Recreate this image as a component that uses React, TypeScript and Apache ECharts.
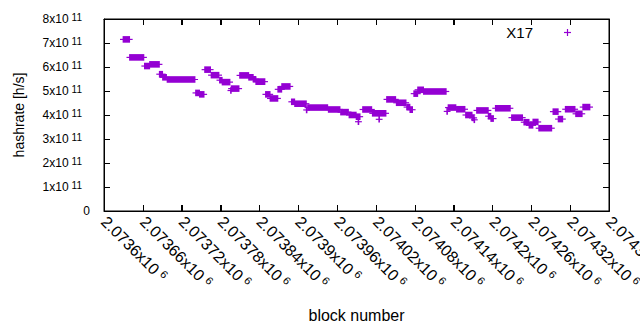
import React, { useEffect, useRef } from 'react';
import * as echarts from 'echarts';

// Runs of consecutive blocks with the same hashrate estimate (value in units of 1e11 h/s)
const runStart = [
  2073630, 2073640, 2073663, 2073671, 2073686, 2073691, 2073698, 2073742, 2073748, 2073756,
  2073766, 2073779, 2073783, 2073796, 2073797, 2073810, 2073824, 2073831, 2073835, 2073850,
  2073857, 2073869, 2073875, 2073890, 2073895, 2073913, 2073915, 2073947, 2073966, 2073979,
  2073990, 2073993, 2074000, 2074015, 2074025, 2074037, 2074052, 2074068, 2074073, 2074079,
  2074085, 2074094, 2074130, 2074132, 2074145, 2074159, 2074169, 2074172, 2074176, 2074194,
  2074198, 2074205, 2074230, 2074249, 2074257, 2074263, 2074272, 2074294, 2074302, 2074313,
  2074329, 2074340,
];
const runEnd = [
  2073639, 2073661, 2073670, 2073685, 2073690, 2073696, 2073740, 2073747, 2073754, 2073764,
  2073777, 2073782, 2073794, 2073796, 2073808, 2073823, 2073830, 2073834, 2073848, 2073856,
  2073868, 2073874, 2073887, 2073894, 2073912, 2073913, 2073945, 2073964, 2073977, 2073989,
  2073995, 2073993, 2074013, 2074035, 2074025, 2074050, 2074066, 2074072, 2074076, 2074084,
  2074093, 2074128, 2074130, 2074143, 2074157, 2074168, 2074171, 2074172, 2074193, 2074197,
  2074201, 2074227, 2074246, 2074256, 2074262, 2074270, 2074291, 2074301, 2074308, 2074327,
  2074338, 2074350,
];
const runHashrate = [
  7.15, 6.40, 6.04, 6.11, 5.70, 5.57, 5.48, 4.92, 4.86, 5.89,
  5.66, 5.45, 5.37, 5.02, 5.10, 5.65, 5.57, 5.49, 5.39, 4.86,
  4.69, 5.07, 5.19, 4.55, 4.47, 4.21, 4.31, 4.23, 4.12, 4.00,
  3.93, 3.72, 4.23, 4.07, 3.82, 4.65, 4.51, 4.33, 4.22, 4.89,
  5.05, 4.98, 4.15, 4.31, 4.24, 4.00, 3.88, 3.80, 4.19, 3.95,
  3.85, 4.28, 3.89, 3.70, 3.57, 3.71, 3.45, 4.14, 3.83, 4.24,
  4.05, 4.33,
];

const xTickLabels = [
  '2.0736', '2.07366', '2.07372', '2.07378', '2.07384', '2.0739', '2.07396',
  '2.07402', '2.07408', '2.07414', '2.0742', '2.07426', '2.07432', '2.07438',
];
const xTickExponent = '6';
const yTickLabels = ['0', '1x10', '2x10', '3x10', '4x10', '5x10', '6x10', '7x10', '8x10'];
const yTickExponent = '11';
const seriesName = 'X17';
const xTitle = 'block number';
const yTitle = 'hashrate [h/s]';

const X_MIN = 2073600;
const X_MAX = 2074380;
const X_STEP = 60;
const Y_MIN = 0;
const Y_MAX = 8;
const COLOR = '#9400d3';
const INK = 'black';
const FONT = '"Liberation Sans", Arial, sans-serif';
const TICK = 6;

const axisCommon = () => ({
  axisLine: { show: true, onZero: false, lineStyle: { color: INK, width: 1 } },
  axisTick: { show: true, inside: true, length: TICK, lineStyle: { color: INK, width: 1 } },
  splitLine: { show: false },
});

const crisp = (v: number) => Math.round(v) + 0.5;

export default function App() {
  const ref = useRef<HTMLDivElement>(null);

  useEffect(() => {
    if (!ref.current) return;
    const chart = echarts.init(ref.current, undefined, { renderer: 'svg' });
    const data = runStart.map((s, i) => [s, runEnd[i], runHashrate[i]]);
    const xTickData = xTickLabels.map((_, i) => [X_MIN + i * X_STEP, Y_MIN]);
    const yTickData = yTickLabels.map((_, i) => [X_MIN, Y_MIN + i]);
    const ink = { stroke: INK, lineWidth: 1 };

    chart.setOption({
      animation: false,
      grid: {
        left: 104, right: 31, top: 19, bottom: 119,
        outerBoundsMode: 'none',
        show: true, borderColor: INK, borderWidth: 1,
      },
      xAxis: [
        {
          type: 'value',
          min: X_MIN,
          max: X_MAX,
          interval: X_STEP,
          position: 'bottom',
          ...axisCommon(),
          name: xTitle,
          nameLocation: 'middle',
          nameGap: 96,
          nameTextStyle: { fontSize: 16, color: INK, fontFamily: FONT },
          axisLabel: {
            show: true,
            rotate: -45,
            margin: 8,
            showMaxLabel: true,
            showMinLabel: true,
            hideOverlap: false,
            formatter: (v: number) => {
              const i = Math.round((v - X_MIN) / X_STEP);
              return `{m|${xTickLabels[i]}x10}{s|${xTickExponent}}`;
            },
            rich: {
              m: { fontSize: 16, color: INK, fontFamily: FONT, lineHeight: 18 },
              s: { fontSize: 11, color: INK, fontFamily: FONT, padding: [0, 0, 0, 4], verticalAlign: 'top', lineHeight: 18 },
            },
          },
        },
        {
          type: 'value',
          min: X_MIN,
          max: X_MAX,
          interval: X_STEP,
          position: 'top',
          ...axisCommon(),
          axisLabel: { show: false },
        },
      ],
      yAxis: [
        {
          type: 'value',
          min: Y_MIN,
          max: Y_MAX,
          interval: 1,
          position: 'left',
          ...axisCommon(),
          name: yTitle,
          nameLocation: 'middle',
          nameGap: 78,
          nameTextStyle: { fontSize: 14, color: INK, fontFamily: FONT },
          axisLabel: {
            show: true,
            margin: 14,
            formatter: (v: number) => {
              const i = Math.round(v);
              if (i === 0) return `{b|${yTickLabels[i]}}`;
              return `{b|${yTickLabels[i]}}{s|${yTickExponent}}`;
            },
            rich: {
              b: { fontSize: 12, color: INK, fontFamily: FONT, lineHeight: 14 },
              s: { fontSize: 10, color: INK, fontFamily: FONT, padding: [0, 8, 0, 3], verticalAlign: 'top', lineHeight: 14 },
            },
          },
        },
        {
          type: 'value',
          min: Y_MIN,
          max: Y_MAX,
          interval: 1,
          position: 'right',
          ...axisCommon(),
          axisLabel: { show: false },
        },
      ],
      series: [
        {
          type: 'custom',
          name: seriesName,
          xAxisIndex: 0,
          yAxisIndex: 0,
          clip: true,
          encode: { x: [0, 1], y: 2 },
          data,
          renderItem: (_params: any, api: any) => {
            const x0 = api.value(0);
            const x1 = api.value(1);
            const v = api.value(2);
            const p0 = api.coord([x0, v]);
            const p1 = api.coord([x1, v]);
            const h = 6.6;
            return {
              type: 'group',
              children: [
                {
                  type: 'rect',
                  shape: { x: p0[0] - 0.8, y: p0[1] - h / 2, width: p1[0] - p0[0] + 1.6, height: h },
                  style: { fill: COLOR },
                },
                {
                  type: 'line',
                  shape: { x1: p0[0] - 3.4, y1: p0[1], x2: p1[0] + 3.4, y2: p0[1] },
                  style: { stroke: COLOR, lineWidth: 1.2 },
                },
              ],
            };
          },
        },
        {
          // x tics on the bottom and (mirrored) top border
          type: 'custom',
          xAxisIndex: 0,
          yAxisIndex: 0,
          clip: false,
          silent: true,
          encode: { x: 0, y: 1 },
          data: xTickData,
          renderItem: (_params: any, api: any) => {
            const pb = api.coord([api.value(0), Y_MIN]);
            const pt = api.coord([api.value(0), Y_MAX]);
            const x = crisp(pb[0]);
            return {
              type: 'group',
              children: [
                { type: 'line', shape: { x1: x, y1: pb[1], x2: x, y2: pb[1] - TICK }, style: ink },
                { type: 'line', shape: { x1: x, y1: pt[1], x2: x, y2: pt[1] + TICK }, style: ink },
              ],
            };
          },
        },
        {
          // y tics on the left and (mirrored) right border, plus the border box
          type: 'custom',
          xAxisIndex: 0,
          yAxisIndex: 0,
          clip: false,
          silent: true,
          encode: { x: 0, y: 1 },
          data: yTickData,
          renderItem: (params: any, api: any) => {
            const pl = api.coord([X_MIN, api.value(1)]);
            const pr = api.coord([X_MAX, api.value(1)]);
            const y = crisp(pl[1]);
            const children: any[] = [
              { type: 'line', shape: { x1: pl[0], y1: y, x2: pl[0] + TICK, y2: y }, style: ink },
              { type: 'line', shape: { x1: pr[0], y1: y, x2: pr[0] - TICK, y2: y }, style: ink },
            ];
            if (params.dataIndex === 0) {
              const cs = params.coordSys;
              const bx0 = crisp(cs.x);
              const by0 = crisp(cs.y);
              const bx1 = crisp(cs.x + cs.width);
              const by1 = crisp(cs.y + cs.height);
              children.push({
                type: 'rect',
                shape: { x: bx0, y: by0, width: bx1 - bx0, height: by1 - by0 },
                style: { fill: 'none', stroke: INK, lineWidth: 1 },
              });
            }
            return { type: 'group', children };
          },
        },
      ],
      graphic: [
        {
          type: 'text',
          x: 533,
          y: 32,
          style: { text: seriesName, fontSize: 15, fontFamily: FONT, fill: INK, align: 'right', verticalAlign: 'middle' },
        },
        {
          type: 'line',
          shape: { x1: 564, y1: 32.5, x2: 571, y2: 32.5 },
          style: { stroke: COLOR, lineWidth: 1.2 },
        },
        {
          type: 'line',
          shape: { x1: 567.5, y1: 29, x2: 567.5, y2: 36 },
          style: { stroke: COLOR, lineWidth: 1.2 },
        },
      ],
    });

    return () => chart.dispose();
  }, []);

  return (
    <div
      ref={ref}
      style={{ position: 'fixed', left: 0, top: 0, width: 640, height: 330, background: '#fff' }}
    />
  );
}
